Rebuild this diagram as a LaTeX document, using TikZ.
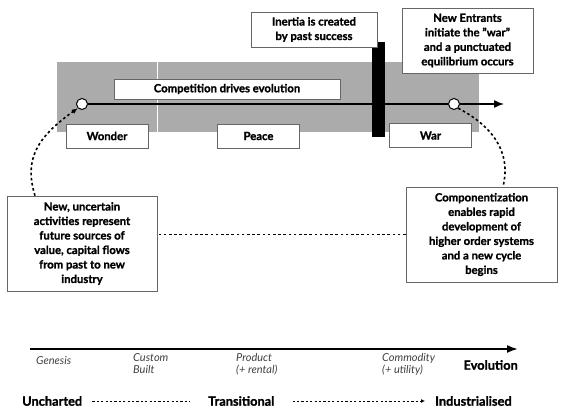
\documentclass[tikz,border=0pt]{standalone}
\usepackage{fontspec}
\setmainfont{Lato}[BoldFeatures={FakeBold=1.2}]
\usetikzlibrary{arrows.meta}

\tikzset{
  box/.style={draw=black!60, line width=0.7pt, fill=white, align=center,
    font=\bfseries\fontsize{11.3}{14.5}\selectfont, inner sep=2pt},
  phase/.style={box, minimum width=82pt, minimum height=24pt},
  dot/.style={circle, draw, fill=white, line width=1pt, minimum size=11pt, inner sep=0pt},
  dots/.style={line width=1.6pt, dash pattern=on 2.6pt off 2.6pt},
  smalldots/.style={line width=0.9pt, dash pattern=on 2.2pt off 2.2pt},
  stage/.style={font=\itshape\fontsize{11}{12.5}\selectfont, text=black!75, align=left,
    anchor=north west, inner sep=0pt},
  bigword/.style={font=\bfseries\fontsize{12.8}{14}\selectfont, inner sep=0pt},
}

\begin{document}
\begin{tikzpicture}[x=1pt,y=-1pt,>=latex]
\useasboundingbox (0,0) rectangle (568,409);

% shaded band
\fill[black!33] (57,62) rectangle (479,132);
\draw[white, line width=0.8pt] (157,62) -- (157,132);

% the cycle
\node[dot] (wonderdot) at (82,104) {};
\node[dot] (wardot) at (454,104) {};
\coordinate (arrowend) at (504,104);
\draw[line width=1.4pt] (wonderdot) -- (wardot);
\draw[line width=1.4pt, -{Latex[length=10pt,width=8pt]}] (wardot) -- (arrowend);

\node[fill=black, minimum width=13pt, minimum height=95pt, inner sep=0pt] (inertiabar) at (378.5,89.5) {};

\node[box, minimum width=226pt, minimum height=20pt] (competition) at (227,89) {Competition drives evolution};
\node[phase] (wonder) at (107,136) {Wonder};
\node[phase] (peace) at (258.5,136) {Peace};
\node[phase] (war) at (430.5,135.5) {War};

\node[box, minimum width=126pt, minimum height=35pt] (inertia) at (314,29.5) {Inertia is created\\by past success};
\node[box, minimum width=131pt, minimum height=65pt] (entrants) at (467.5,40.5) {New Entrants\\initiate the "war"\\and a punctuated\\equilibrium occurs};

\node[box, minimum width=150pt, minimum height=95pt] (newact) at (82,243.5) {New, uncertain\\activities represent\\future sources of\\value, capital flows\\from past to new\\industry};
\node[box, minimum width=151pt, minimum height=95pt] (compo) at (481.5,234.5) {Componentization\\enables rapid\\development of\\higher order systems\\and a new cycle\\begins};

\draw[dots, -{Latex[length=6pt,width=5pt]}] ([xshift=-47pt]newact.north) .. controls (24,160) and (36,138) .. (wonderdot.south west);
\draw[dots] (wardot.south east) .. controls (490,125) and (512,150) .. ([xshift=21.5pt]compo.north);
\draw[dots] (compo.west) -- (compo.west -| newact.east);

% evolution axis
\coordinate (axisstart) at (30,349);
\coordinate (axisend) at (518,349);
\draw[line width=1.8pt, -{Latex[length=11pt,width=8pt]}] (axisstart) -- (axisend);

\node[stage] (genesis) at (36,356) {Genesis};
\node[stage] (custom) at (133,353) {Custom\\Built};
\node[stage] (product) at (236,353) {Product\\(+ rental)};
\node[stage] (commodity) at (382,353) {Commodity\\(+ utility)};
\node[bigword, anchor=east] (evolution) at (518,365) {Evolution};

\node[bigword, anchor=west] (uncharted) at (22,401) {Uncharted};
\node[bigword, anchor=west] (transitional) at (208,401) {Transitional};
\node[bigword, anchor=west] (industrial) at (435,401) {Industrialised};
\draw[smalldots] ([xshift=10pt]uncharted.east) -- ([xshift=-18pt]transitional.west);
\draw[smalldots, -{Latex[length=4pt,width=4pt]}] ([xshift=18pt]transitional.east) -- ([xshift=-10pt]industrial.west);

\end{tikzpicture}
\end{document}
